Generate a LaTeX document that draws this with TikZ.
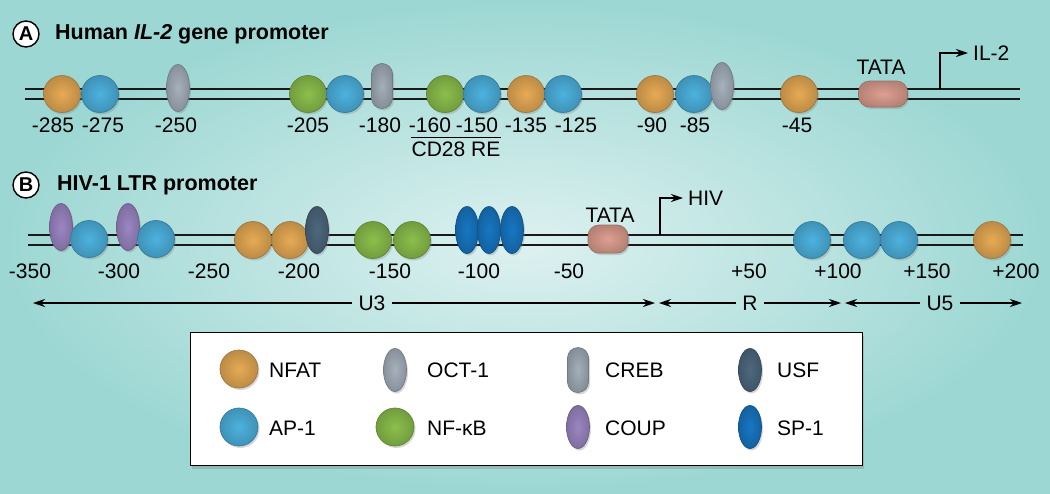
\documentclass[tikz,border=0pt]{standalone}
\usepackage{fontspec}
\setmainfont{Liberation Sans}
\usetikzlibrary{arrows.meta,shapes.geometric,shadows}

\definecolor{nfat}{HTML}{E6AA55}
\definecolor{apone}{HTML}{4DB2DF}
\definecolor{nfkb}{HTML}{8BBF4C}
\definecolor{octone}{HTML}{A6B1BD}
\definecolor{creb}{HTML}{A3AFBA}
\definecolor{usf}{HTML}{4E687E}
\definecolor{coup}{HTML}{9C86C3}
\definecolor{spone}{HTML}{1777C3}
\definecolor{tata}{HTML}{DE9F90}
\definecolor{bgdark}{HTML}{9CD7D3}
\definecolor{bglight}{HTML}{DDF1F0}

\begin{document}
\begin{tikzpicture}[x=1pt,y=-1pt,>={Stealth[length=12pt,width=8pt]},
    font=\fontsize{21}{24}\selectfont,
    shiny/.style={inner color=#1, outer color=#1!82!black, draw=#1!70!black, line width=0.7pt,
      drop shadow={opacity=0.3,shadow xshift=1.5pt,shadow yshift=-2pt}},
    bead/.style={shiny=#1, circle, minimum size=37pt, inner sep=0pt},
    oval/.style={shiny=#1, ellipse, minimum width=23pt, minimum height=47pt, inner sep=0pt},
    pill/.style={shiny=#1, rectangle, rounded corners=10.5pt, minimum width=21pt, minimum height=45pt, inner sep=0pt},
    tatabox/.style={shiny=tata, rectangle, rounded corners=11pt, minimum width=#1, minimum height=26pt, inner sep=0pt},
    strand/.style={line width=2.6pt, black!90},
    tss/.style={line width=1.4pt, ->},
    region/.style={line width=1.2pt, ->},
    regtxt/.style={inner xsep=6pt},
    tag/.style={circle, draw, line width=1.4pt, fill=white, minimum size=26pt, inner sep=0pt, font=\fontsize{20}{24}\selectfont\bfseries},
    title/.style={anchor=west, inner sep=0pt, font=\fontsize{21.5}{24}\selectfont\bfseries},
    keytxt/.style={anchor=west, inner sep=0pt},
    panel/.style={draw, line width=1pt, fill=white, minimum width=672pt, minimum height=133pt,
      drop shadow={opacity=0.35,shadow xshift=2pt,shadow yshift=-4pt}}]

    \useasboundingbox (0,0) rectangle (1050,493);
    \shade[inner color=bglight, outer color=bgdark] (0,0) rectangle (1050,493);

    % (A) IL-2 promoter
    \node[tag] (tagA) at (26,34) {A};
    \node[title] (titleA) at (55,34) {Human \textit{IL-2} gene promoter};

    \coordinate (ilL) at (25,94);
    \coordinate (ilR) at (1020,94);
    \draw[strand] ([yshift=5pt]ilL) -- ([yshift=5pt]ilR) ([yshift=-5pt]ilL) -- ([yshift=-5pt]ilR);
    \coordinate (ilTSS) at (940,89);
    \node[anchor=west, inner xsep=5pt, inner ysep=0pt] (il2) at (968,53) {IL-2};
    \draw[tss] (ilTSS) |- (il2.west);

    \node[bead=nfat] (il285) at (62,94) {};
    \node[bead=apone] (il275) at (100,94) {};
    \node[oval=octone] (il250) at (178,88) {};
    \node[bead=nfkb] (il205) at (308,94) {};
    \node[bead=apone] (il200) at (345,94) {};
    \node[pill=creb] (il180) at (382,86) {};
    \node[bead=nfkb] (il160) at (445,94) {};
    \node[bead=apone] (il150) at (482,94) {};
    \node[bead=nfat] (il135) at (526,94) {};
    \node[bead=apone] (il125) at (563,94) {};
    \node[bead=nfat] (il90) at (655,94) {};
    \node[bead=apone] (il85) at (694,94) {};
    \node[oval=octone] (il80) at (722,86) {};
    \node[bead=nfat] (il45) at (799,94) {};
    \node[tatabox=49pt] (ilTATA) at (883,94) {};
    \node (ilTATAtxt) at (881,67) {TATA};

    \foreach \x/\t [count=\i] in {53/-285,103/-275,176/-250,308/-205,380/-180,430/-160,
        477/-150,526/-135,576/-125,652/-90,695/-85,797/-45}
      \node[inner sep=0pt] (ilpos\i) at (\x,125) {\t};
    \node[inner xsep=0pt, inner ysep=4pt] (cd28) at (456,149) {CD28 RE};
    \draw[line width=1.2pt] (cd28.north west) -- (cd28.north east);

    % (B) HIV-1 LTR
    \node[tag] (tagB) at (26,185) {B};
    \node[title] (titleB) at (57,185) {HIV-1 LTR promoter};

    \coordinate (hivL) at (28,240);
    \coordinate (hivR) at (1023,240);
    \draw[strand] ([yshift=5pt]hivL) -- ([yshift=5pt]hivR) ([yshift=-5pt]hivL) -- ([yshift=-5pt]hivR);
    \coordinate (hivTSS) at (660,235);
    \node[anchor=west, inner xsep=5pt, inner ysep=0pt] (hivtxt) at (683,198) {HIV};
    \draw[tss] (hivTSS) |- (hivtxt.west);

    \node[oval=coup] (hiv1) at (61,227) {};
    \node[bead=apone] (hiv2) at (89,239) {};
    \node[oval=coup] (hiv3) at (128,227) {};
    \node[bead=apone] (hiv4) at (156,239) {};
    \node[bead=nfat] (hiv5) at (253,240) {};
    \node[bead=nfat] (hiv6) at (290,240) {};
    \node[oval=usf] (hiv7) at (317,230) {};
    \node[bead=nfkb] (hiv8) at (373,240) {};
    \node[bead=nfkb] (hiv9) at (412,240) {};
    \node[oval=spone] (hiv10) at (467,230) {};
    \node[oval=spone] (hiv11) at (489,230) {};
    \node[oval=spone] (hiv12) at (512,230) {};
    \node[tatabox=40pt, minimum height=28pt] (hivTATA) at (608,239) {};
    \node (hivTATAtxt) at (610,215) {TATA};
    \node[bead=apone] (hiv13) at (812,240) {};
    \node[bead=apone] (hiv14) at (862,240) {};
    \node[bead=apone] (hiv15) at (899,240) {};
    \node[bead=nfat] (hiv16) at (992,240) {};

    \foreach \x/\t [count=\i] in {30/-350,119/-300,209/-250,299/-200,390/-150,479/-100,
        569/-50,749/+50,838/+100,927/+150,1016/+200}
      \node[inner sep=0pt] (hivpos\i) at (\x,271) {\t};

    % U3 / R / U5
    \coordinate (u3a) at (33,303);
    \coordinate (u3b) at (655,303);
    \coordinate (ra) at (659,303);
    \coordinate (rb) at (841,303);
    \coordinate (u5a) at (845,303);
    \coordinate (u5b) at (1022,303);
    \node[regtxt] (u3) at (372,303) {U3};
    \node[regtxt] (r) at (750,303) {R};
    \node[regtxt] (u5) at (940,303) {U5};
    \draw[region] (u3) -- (u3a);
    \draw[region] (u3) -- (u3b);
    \draw[region] (r) -- (ra);
    \draw[region] (r) -- (rb);
    \draw[region] (u5) -- (u5a);
    \draw[region] (u5) -- (u5b);

    % key
    \node[panel] (key) at (526,398.5) {};
    \node[bead=nfat, minimum size=38pt] (kNFAT) at (239,369) {};
    \node[keytxt] (tNFAT) at (269,370) {NFAT};
    \node[bead=apone, minimum size=38pt] (kAP) at (239,427) {};
    \node[keytxt] (tAP) at (269,428) {AP-1};
    \node[oval=octone, minimum height=43pt] (kOCT) at (395,370) {};
    \node[keytxt] (tOCT) at (427,370) {OCT-1};
    \node[bead=nfkb, minimum size=38pt] (kNFKB) at (395,427) {};
    \node[keytxt] (tNFKB) at (427,428) {NF-κB};
    \node[pill=creb] (kCREB) at (578,370) {};
    \node[keytxt] (tCREB) at (605,370) {CREB};
    \node[oval=coup, minimum height=43pt] (kCOUP) at (578,427) {};
    \node[keytxt] (tCOUP) at (605,428) {COUP};
    \node[oval=usf, minimum height=43pt] (kUSF) at (750,370) {};
    \node[keytxt] (tUSF) at (777,370) {USF};
    \node[oval=spone, minimum height=43pt] (kSP) at (750,427) {};
    \node[keytxt] (tSP) at (777,428) {SP-1};
\end{tikzpicture}
\end{document}
